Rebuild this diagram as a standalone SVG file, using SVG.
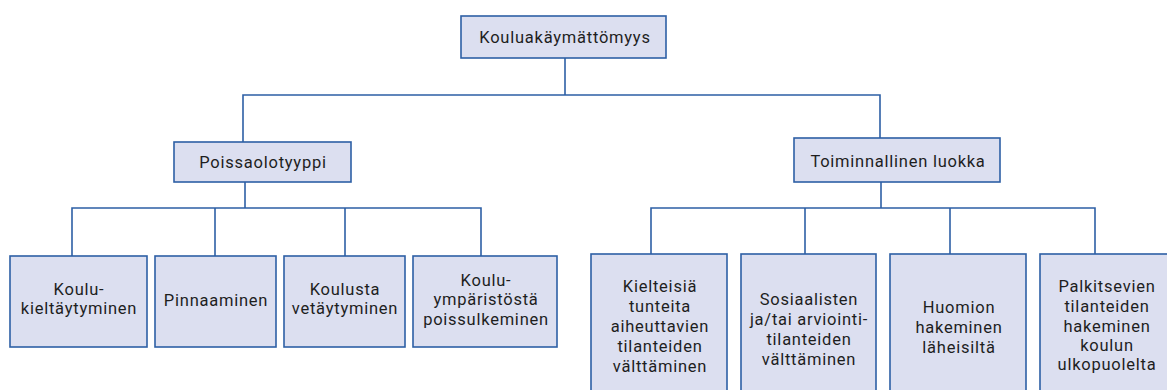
<svg xmlns="http://www.w3.org/2000/svg" width="1167" height="390" viewBox="0 0 1167 390">
<style>
.box{fill:#dcdff0;stroke:#2d5fa5;stroke-width:1.6}
.ln{fill:none;stroke:#2d5fa5;stroke-width:1.6}
text{font-family:"Roboto","Liberation Sans",sans-serif;font-size:16.5px;fill:#1e1e1e;text-anchor:middle;letter-spacing:0.75px}
</style>
<rect width="1167" height="390" fill="#ffffff"/>
<g id="connectors">
<polyline class="ln" points="565,58 565,95"/>
<polyline class="ln" points="243,142 243,95 880,95 880,138"/>
<polyline class="ln" points="245,182 245,208"/>
<polyline class="ln" points="72,256 72,208 481,208 481,256"/>
<polyline class="ln" points="215,208 215,256"/>
<polyline class="ln" points="345,208 345,256"/>
<polyline class="ln" points="881,182 881,208"/>
<polyline class="ln" points="651,254 651,208 1095,208 1095,254"/>
<polyline class="ln" points="805,208 805,254"/>
<polyline class="ln" points="950,208 950,254"/>
</g>
<g id="n-root"><rect class="box" x="461" y="16" width="205" height="42"/><text x="565" y="43">Kouluakäymättömyys</text></g>
<g id="n-poissaolotyyppi"><rect class="box" x="174" y="142" width="177" height="40"/><text x="263" y="168">Poissaolotyyppi</text></g>
<g id="n-toiminnallinen"><rect class="box" x="794" y="138" width="206" height="44"/><text x="898" y="167">Toiminnallinen luokka</text></g>
<g id="n-koulukieltaytyminen"><rect class="box" x="10" y="256" width="137" height="91"/><text x="79" y="295">Koulu-</text><text x="79" y="314">kieltäytyminen</text></g>
<g id="n-pinnaaminen"><rect class="box" x="155" y="256" width="121" height="91"/><text x="216" y="306">Pinnaaminen</text></g>
<g id="n-koulusta"><rect class="box" x="284" y="256" width="121" height="91"/><text x="345" y="295">Koulusta</text><text x="345" y="314">vetäytyminen</text></g>
<g id="n-kouluymparisto"><rect class="box" x="413" y="256" width="144" height="91"/><text x="486" y="286">Koulu-</text><text x="486" y="305">ympäristöstä</text><text x="486" y="325">poissulkeminen</text></g>
<g id="n-kielteisia"><rect class="box" x="591" y="254" width="136" height="146"/><text x="660" y="292">Kielteisiä</text><text x="660" y="312">tunteita</text><text x="660" y="332">aiheuttavien</text><text x="660" y="352">tilanteiden</text><text x="660" y="372">välttäminen</text></g>
<g id="n-sosiaalisten"><rect class="box" x="741" y="254" width="135" height="146"/><text x="809" y="305">Sosiaalisten</text><text x="809" y="325">ja/tai arviointi-</text><text x="809" y="345">tilanteiden</text><text x="809" y="365">välttäminen</text></g>
<g id="n-huomion"><rect class="box" x="890" y="254" width="136" height="146"/><text x="959" y="313">Huomion</text><text x="959" y="333">hakeminen</text><text x="959" y="353">läheisiltä</text></g>
<g id="n-palkitsevien"><rect class="box" x="1040" y="254" width="135" height="146"/><text x="1107" y="292">Palkitsevien</text><text x="1107" y="312">tilanteiden</text><text x="1107" y="332">hakeminen</text><text x="1107" y="351">koulun</text><text x="1107" y="370">ulkopuolelta</text></g>
</svg>
